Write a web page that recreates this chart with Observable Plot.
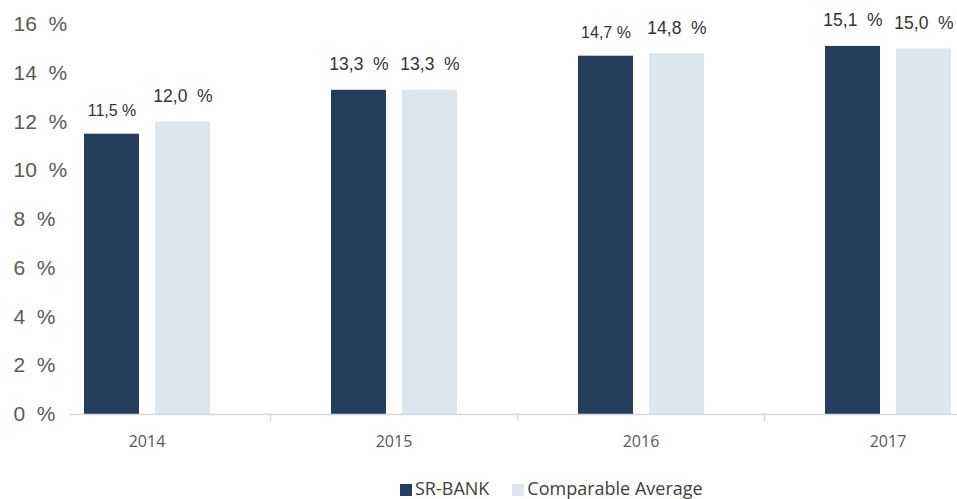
<!DOCTYPE html>
<html>
<head>
<meta charset="utf-8">
<script src="https://cdn.jsdelivr.net/npm/d3@7"></script>
<script src="https://cdn.jsdelivr.net/npm/@observablehq/plot@0.6"></script>
<style>
  html, body { margin: 0; padding: 0; background: #fff; overflow: hidden; }
  #chart { width: 957px; height: 499px; position: relative; }
  .legend { position: absolute; left: 400px; top: 478px; display: flex; align-items: center;
    font-family: "Open Sans", sans-serif; font-size: 18px; line-height: 20px; color: #404040; }
  .legend .item { display: flex; align-items: center; margin-right: 23px; }
  .legend .sw { width: 12px; height: 12px; margin-right: 3px; margin-top: 3px; }
</style>
</head>
<body>
<div id="chart"></div>
<script>
const years = ["2014", "2015", "2016", "2017"];
const seriesNames = ["SR-BANK", "Comparable Average"];
const srBank = [11.5, 13.3, 14.7, 15.1];
const comparable = [12.0, 13.3, 14.8, 15.0];
const srLabels = ["11,5 %", "13,3  %", "14,7 %", "15,1  %"];
const compLabels = ["12,0  %", "13,3  %", "14,8  %", "15,0  %"];
const yTicks = [0, 2, 4, 6, 8, 10, 12, 14, 16];

const colors = ["#243f5e", "#dce6f1"];

const srRows = years.map((y, i) => ({year: y, series: seriesNames[0], value: srBank[i], label: srLabels[i], idx: i}));
const compRows = years.map((y, i) => ({year: y, series: seriesNames[1], value: comparable[i], label: compLabels[i], idx: i}));

const band = 247;
const half = band / 2;
const srInset = {insetLeft: 61, insetRight: 131};
const compInset = {insetLeft: 132, insetRight: 60};
const srDx = 61 + 27.5 - half;
const compDx = 132 + 27.5 - half;

const labelFont = "Liberation Sans, Arial, sans-serif";

const plot = Plot.plot({
  width: 957,
  height: 468,
  marginLeft: 69,
  marginRight: 0,
  marginTop: 24,
  marginBottom: 54,
  style: {background: "transparent", overflow: "visible"},
  x: {type: "band", domain: years, range: [23, 23 + band * years.length], padding: 0, axis: null},
  y: {domain: [0, 16], axis: null},
  marks: [
    Plot.axisY(yTicks, {
      tickSize: 0, tickPadding: 56, textAnchor: "start", label: null,
      tickFormat: d => `${d}  %`,
      fontSize: 21, fontFamily: labelFont, color: "#595959"
    }),
    Plot.barY(srRows, {x: "year", y: "value", fill: colors[0], ...srInset}),
    Plot.barY(compRows, {x: "year", y: "value", fill: colors[1], ...compInset}),
    Plot.ruleY([0], {stroke: "#d9d9d9", strokeWidth: 1.5}),
    Plot.ruleX(years.slice(0, 3), {x: d => d, y1: 0, y2: 0, dx: half, insetBottom: -7, stroke: "#d9d9d9", strokeWidth: 1.5}),
    Plot.text(years, {x: d => d, y: 0, text: d => d, dy: 27, lineAnchor: "middle",
      fontSize: 16, fontFamily: "Open Sans, sans-serif", fill: "#595959"}),
    Plot.text(srRows.filter(d => d.idx % 2 === 0), {x: "year", y: "value", text: "label", dx: srDx, dy: -18,
      lineAnchor: "bottom", fontSize: 16, fontFamily: labelFont, fill: "#333333"}),
    Plot.text(srRows.filter(d => d.idx % 2 === 1), {x: "year", y: "value", text: "label", dx: srDx, dy: -20,
      lineAnchor: "bottom", fontSize: 17.5, fontFamily: labelFont, fill: "#333333"}),
    Plot.text(compRows, {x: "year", y: "value", text: "label", dx: compDx, dy: -20,
      lineAnchor: "bottom", fontSize: 17.5, fontFamily: labelFont, fill: "#333333"})
  ]
});

const chart = document.getElementById("chart");
chart.appendChild(plot);

const legend = document.createElement("div");
legend.className = "legend";
seriesNames.forEach((name, i) => {
  const item = document.createElement("div");
  item.className = "item";
  const sw = document.createElement("span");
  sw.className = "sw";
  sw.style.background = colors[i];
  const label = document.createElement("span");
  label.textContent = name;
  item.appendChild(sw);
  item.appendChild(label);
  legend.appendChild(item);
});
chart.appendChild(legend);
</script>
</body>
</html>
